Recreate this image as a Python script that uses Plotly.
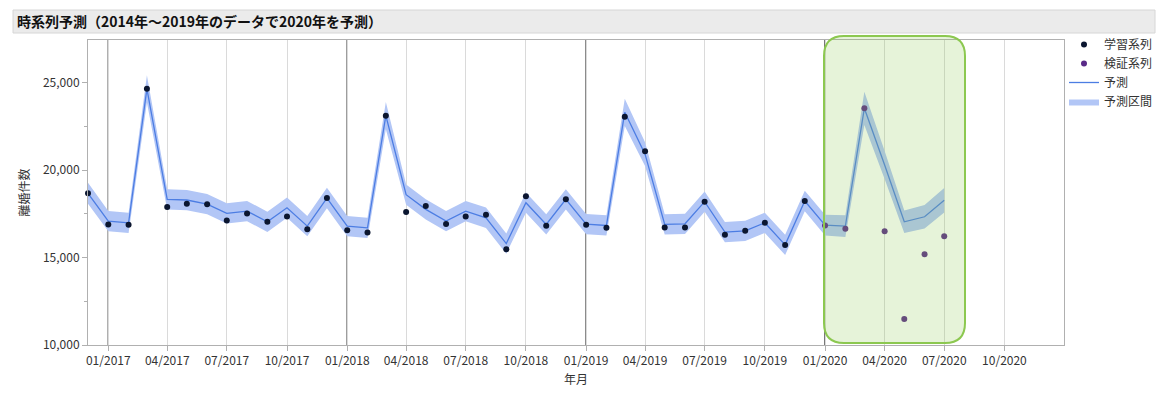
import plotly.graph_objects as go

# ---- data ----
months = ["2016-12-01",
          "2017-01-01","2017-02-01","2017-03-01","2017-04-01","2017-05-01","2017-06-01",
          "2017-07-01","2017-08-01","2017-09-01","2017-10-01","2017-11-01","2017-12-01",
          "2018-01-01","2018-02-01","2018-03-01","2018-04-01","2018-05-01","2018-06-01",
          "2018-07-01","2018-08-01","2018-09-01","2018-10-01","2018-11-01","2018-12-01",
          "2019-01-01","2019-02-01","2019-03-01","2019-04-01","2019-05-01","2019-06-01",
          "2019-07-01","2019-08-01","2019-09-01","2019-10-01","2019-11-01","2019-12-01",
          "2020-01-01","2020-02-01","2020-03-01","2020-04-01","2020-05-01","2020-06-01",
          "2020-07-01"]

train_months = months[:37]
train_values = [18678,
                16897, 16878, 24655, 17891, 18084, 18046, 17126, 17529, 17050, 17356, 16628, 18410,
                16571, 16437, 23123, 17605, 17950, 16916, 17356, 17452, 15479, 18506, 16820, 18333,
                16878, 16705, 23065, 21092, 16724, 16724, 18199, 16303, 16533, 16992, 15728, 18238]

valid_months = months[37:]
valid_values = [16839, 16648, 23544, 16513, 11494, 15192, 16226]

pred_values = [18678,
               17088, 16992, 24655, 18333, 18295, 18065, 17529, 17662, 17050, 17854, 16801, 18410,
               16801, 16705, 23123, 18601, 17759, 17088, 17662, 17280, 15805, 18142, 16897, 18333,
               16916, 16839, 23314, 20920, 16897, 16935, 18199, 16456, 16533, 16992, 15728, 18238,
               16858, 16801, 23544, 20300, 17050, 17337, 18276]

pred_lower = [18078,
              16508, 16412, 23875, 17753, 17715, 17485, 16949, 17082, 16470, 17274, 16221, 17830,
              16221, 16125, 22343, 18021, 17179, 16508, 17082, 16700, 15225, 17562, 16317, 17753,
              16336, 16259, 22534, 20240, 16317, 16355, 17619, 15876, 15953, 16412, 15148, 17658,
              16258, 16181, 22594, 19500, 16410, 16667, 17576]

pred_upper = [19278,
              17668, 17572, 25435, 18913, 18875, 18645, 18109, 18242, 17630, 18434, 17381, 18990,
              17381, 17285, 23903, 19181, 18339, 17668, 18242, 17860, 16385, 18722, 17477, 18913,
              17496, 17419, 24094, 21600, 17477, 17515, 18779, 17036, 17113, 17572, 16308, 18818,
              17458, 17421, 24494, 21100, 17690, 18007, 18976]

year_starts = ["2017-01-01", "2018-01-01", "2019-01-01", "2020-01-01"]

title_text = "時系列予測（2014年～2019年のデータで2020年を予測）"
x_title = "年月"
y_title = "離婚件数"

FONT = "Noto Sans CJK JP"

# ---- figure ----
fig = go.Figure()

fig.add_trace(go.Scatter(x=months, y=pred_lower, mode="lines",
                         line=dict(width=0, color="rgba(0,0,0,0)"),
                         showlegend=False, hoverinfo="skip"))
fig.add_trace(go.Scatter(x=months, y=pred_upper, mode="lines", fill="tonexty",
                         fillcolor="#b2c6f6", line=dict(width=0, color="rgba(0,0,0,0)"),
                         name="予測区間", legendrank=4))
fig.add_trace(go.Scatter(x=months, y=pred_values, mode="lines",
                         line=dict(width=1.3, color="#4c7de3"),
                         name="予測", legendrank=3))
fig.add_trace(go.Scatter(x=train_months, y=train_values, mode="markers",
                         marker=dict(size=6, color="#0b1630"),
                         name="学習系列", legendrank=1, cliponaxis=False))
fig.add_trace(go.Scatter(x=valid_months, y=valid_values, mode="markers",
                         marker=dict(size=6, color="#5a2a88"),
                         name="検証系列", legendrank=2, cliponaxis=False))

# plot area: x 88..1064, y 40..345 in a 1165x399 canvas
L, R, T, B = 88, 101, 40, 54
W, H = 1165 - L - R, 399 - T - B

def px_x(p):
    return (p - L) / W

def px_y(p):
    return (399 - B - p) / H

shapes = []
# title bar
shapes.append(dict(type="rect", xref="paper", yref="paper",
                   x0=px_x(13), x1=px_x(1155), y0=px_y(33), y1=px_y(10),
                   fillcolor="#ebebeb", line=dict(color="#d6d6d6", width=1), layer="below"))
# year separators
for ys in year_starts:
    shapes.append(dict(type="line", xref="x", yref="paper", x0=ys, x1=ys, y0=0, y1=1,
                       line=dict(color="#000000", width=1.2), layer="between"))
# green highlight box with rounded corners
x0, x1 = px_x(824), px_x(965)
y0, y1 = px_y(343), px_y(36)
rx, ry = 20 / W, 20 / H
path = (f"M {x0+rx},{y0} L {x1-rx},{y0} Q {x1},{y0} {x1},{y0+ry} "
        f"L {x1},{y1-ry} Q {x1},{y1} {x1-rx},{y1} "
        f"L {x0+rx},{y1} Q {x0},{y1} {x0},{y1-ry} "
        f"L {x0},{y0+ry} Q {x0},{y0} {x0+rx},{y0} Z")
shapes.append(dict(type="path", xref="paper", yref="paper", path=path,
                   fillcolor="rgba(140,200,80,0.22)",
                   line=dict(color="#8cc850", width=2), layer="above"))

fig.update_layout(
    width=1165, height=399,
    margin=dict(l=L, r=R, t=T, b=B, autoexpand=False),
    paper_bgcolor="white", plot_bgcolor="white",
    font=dict(family=FONT, size=12, color="#333333"),
    shapes=shapes,
    annotations=[dict(text=f"<b>{title_text}</b>", xref="paper", yref="paper",
                      x=px_x(15), y=px_y(21), xanchor="left", yanchor="middle",
                      showarrow=False, font=dict(family=FONT, size=14, color="#111111"))],
    legend=dict(x=px_x(1064), y=px_y(30), xanchor="left", yanchor="top",
                traceorder="normal",
                font=dict(family=FONT, size=12, color="#333333"),
                bgcolor="rgba(0,0,0,0)", itemwidth=30, tracegroupgap=0),
    showlegend=True,
)

fig.update_xaxes(
    type="date", range=["2016-12-01", "2020-12-31"],
    tick0="2017-01-01", dtick="M3", tickformat="%m/%Y",
    showgrid=True, gridcolor="#dadada", gridwidth=1,
    showline=True, linecolor="#b0b0b0", linewidth=1, mirror=True,
    ticks="outside", ticklen=5, tickcolor="#b0b0b0",
    tickfont=dict(size=12, color="#333333"),
    title=dict(text=x_title, font=dict(size=12, color="#333333"), standoff=8),
    zeroline=False, automargin=False,
)
fig.update_yaxes(
    range=[10000, 27450], dtick=5000, tick0=10000, tickformat=",d",
    showgrid=False, showline=True, linecolor="#b0b0b0", linewidth=1, mirror=True,
    ticks="outside", ticklen=5, tickcolor="#b0b0b0",
    minor=dict(dtick=2500, ticks="outside", ticklen=3, tickcolor="#b0b0b0", showgrid=False),
    tickfont=dict(size=12, color="#333333"),
    title=dict(text=y_title, font=dict(size=12, color="#333333"), standoff=10),
    zeroline=False, automargin=False,
)

fig.write_html("out.html", config={"displayModeBar": False},
               post_script="document.body.style.margin='0';document.body.style.overflow='hidden';")
